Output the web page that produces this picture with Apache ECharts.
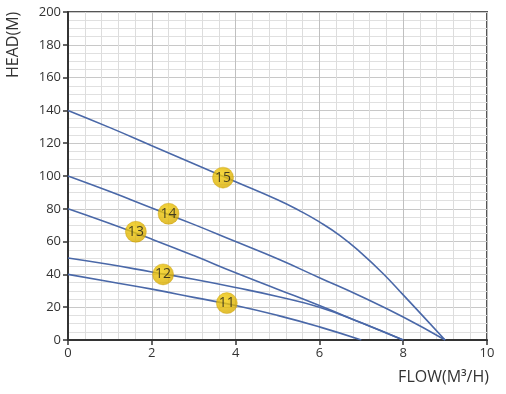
<!DOCTYPE html>
<html><head><meta charset="utf-8">
<script src="https://cdn.jsdelivr.net/npm/echarts@6/dist/echarts.min.js"></script>
<style>html,body{margin:0;padding:0;background:#fff}#c{width:506px;height:394px}</style>
</head><body><div id="c"></div>
<script>
const xTicks = [0, 2, 4, 6, 8, 10];
const yTicks = [0, 20, 40, 60, 80, 100, 120, 140, 160, 180, 200];
const curve15 = [[0,140],[1,129.5],[2,118.5],[3,107.5],[4,96.5],[5,85.5],[5.5,79.2],[6,72],[6.5,63.5],[7,53],[7.5,41],[8,27.5],[8.5,13.8],[9,0]];
const curve14 = [[0,100],[1,90.5],[2,80.5],[3,70.5],[4,60],[5,49.5],[6,38],[7,26.5],[8,14],[9,0]];
const curve13 = [[0,80],[1,71],[2,61.5],[3,51.5],[4,41],[5,31],[6,21],[7,10.5],[8,0]];
const curve12 = [[0,50],[1,46],[2,41.5],[3,37],[4,32],[5,26.5],[6,20],[7,10.5],[8,0]];
const curve11 = [[0,40],[1,35.5],[2,31],[3,26],[4,21],[5,15],[6,8],[7,0]];
const badges = [
  {name:'15', x:3.7, y:99},
  {name:'14', x:2.4, y:77},
  {name:'13', x:1.62, y:66},
  {name:'12', x:2.27, y:40},
  {name:'11', x:3.79, y:22.5}
];
const FONT = 'Open Sans';
const chart = echarts.init(document.getElementById('c'));
const lineStyle = {color:'#4a68a8', width:1.6};
const mk = d => ({type:'line', data:d, smooth:0.5, symbol:'none', lineStyle:lineStyle, silent:true, z:3});
chart.setOption({
  animation:false,
  grid:{left:68, right:19, top:12, bottom:54, show:true, borderColor:'#555', borderWidth:2},
  xAxis:{type:'value', min:0, max:10, interval:2,
    axisLine:{show:true, onZero:false, lineStyle:{color:'#333', width:2}},
    axisTick:{show:true, length:5, lineStyle:{color:'#333', width:1.5}},
    axisLabel:{color:'#333', fontFamily:FONT, fontSize:13, margin:7},
    splitLine:{show:true, lineStyle:{color:'#c0c0c0', width:1}},
    minorTick:{show:false, splitNumber:5},
    minorSplitLine:{show:true, lineStyle:{color:'#dddddd', width:1}}
  },
  yAxis:{type:'value', min:0, max:200, interval:20,
    axisLine:{show:true, onZero:false, lineStyle:{color:'#333', width:2}},
    axisTick:{show:true, length:5, lineStyle:{color:'#333', width:1.5}},
    axisLabel:{color:'#333', fontFamily:FONT, fontSize:13, margin:7},
    splitLine:{show:true, lineStyle:{color:'#c8c8c8', width:1}},
    minorTick:{show:false, splitNumber:4},
    minorSplitLine:{show:true, lineStyle:{color:'#e0e0e0', width:1}}
  },
  graphic:[
    {type:'text', x:5, y:78, rotation:Math.PI/2,
      style:{text:'HEAD(M)', fill:'#333', font:'16px "Open Sans"', textAlign:'left', textVerticalAlign:'top'}},
    {type:'text', x:489, y:369, style:{text:'FLOW(M³/H)', fill:'#333', font:'16px "Open Sans"', textAlign:'right', textVerticalAlign:'top'}}
  ],
  series:[
    mk(curve15), mk(curve14), mk(curve13), mk(curve12), mk(curve11),
    {type:'scatter', data:badges.map(b=>({name:b.name, value:[b.x,b.y]})), symbolSize:21, z:5,
      itemStyle:{color:new echarts.graphic.RadialGradient(0.4,0.35,0.7,[{offset:0,color:'#f5cf0c'},{offset:1,color:'#d6a900'}]), borderColor:'#c99a00', borderWidth:0.5},
      label:{show:true, position:'inside', formatter:p=>p.name, color:'#1a1a1a', fontFamily:FONT, fontSize:14}}
  ]
});
</script></body></html>
